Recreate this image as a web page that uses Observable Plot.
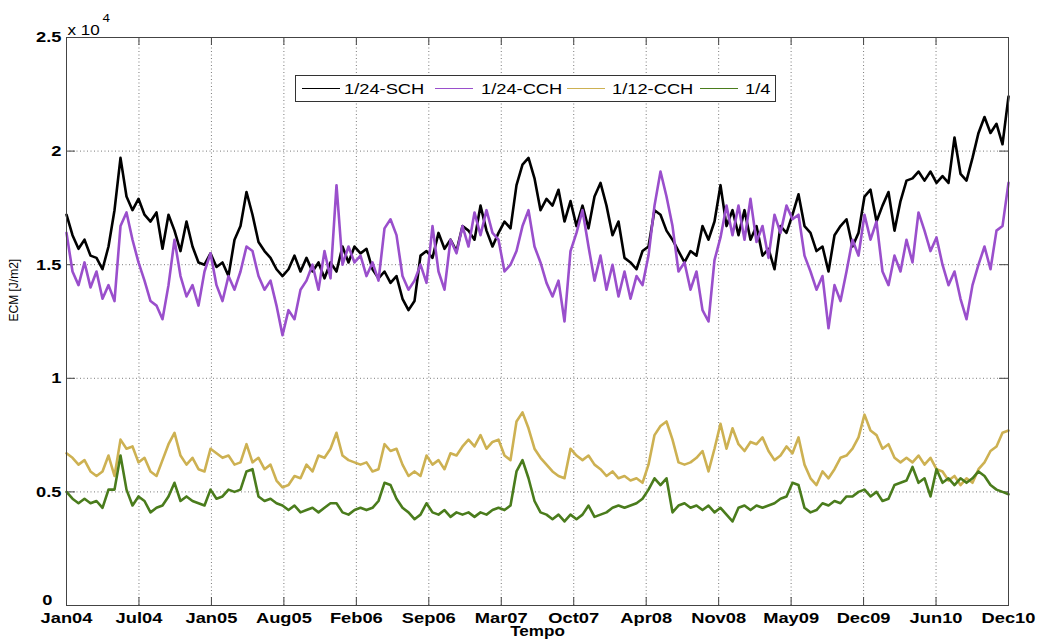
<!DOCTYPE html>
<html>
<head>
<meta charset="utf-8">
<script src="https://cdn.jsdelivr.net/npm/d3@7"></script>
<script src="https://cdn.jsdelivr.net/npm/@observablehq/plot@0.6"></script>
<style>
  html, body { margin: 0; padding: 0; background: #fff; }
  #chart { width: 1038px; height: 644px; }
</style>
</head>
<body>
<div id="chart"></div>
<script>
// Mean kinetic energy (ECM), in units of 10^4 J/m2, sampled on a regular
// time grid from Jan 2004 to Dec 2010.
const seriesNames = ["1/24-SCH", "1/24-CCH", "1/12-CCH", "1/4"];
const seriesColors = ["#000000", "#9a4fcc", "#cdb152", "#4a7c1c"];

const sch24 = [
  1.72, 1.63, 1.57, 1.61, 1.54, 1.53, 1.48, 1.58, 1.74, 1.97,
  1.80, 1.74, 1.79, 1.72, 1.69, 1.73, 1.57, 1.72, 1.65, 1.56,
  1.69, 1.58, 1.51, 1.50, 1.55, 1.49, 1.51, 1.45, 1.61, 1.67,
  1.82, 1.72, 1.60, 1.56, 1.53, 1.48, 1.45, 1.48, 1.54, 1.47,
  1.53, 1.47, 1.51, 1.44, 1.51, 1.47, 1.58, 1.51, 1.58, 1.55,
  1.57, 1.48, 1.44, 1.47, 1.42, 1.45, 1.35, 1.30, 1.34, 1.54,
  1.56, 1.53, 1.64, 1.57, 1.61, 1.56, 1.67, 1.65, 1.61, 1.76,
  1.65, 1.58, 1.64, 1.69, 1.66, 1.85, 1.94, 1.97, 1.88, 1.74,
  1.79, 1.76, 1.83, 1.69, 1.78, 1.67, 1.76, 1.66, 1.80, 1.86,
  1.76, 1.63, 1.69, 1.53, 1.51, 1.48, 1.56, 1.58, 1.74, 1.72,
  1.65, 1.61, 1.56, 1.51, 1.56, 1.54, 1.67, 1.61, 1.69, 1.85,
  1.67, 1.74, 1.63, 1.74, 1.61, 1.67, 1.54, 1.57, 1.48, 1.67,
  1.64, 1.72, 1.81, 1.67, 1.64, 1.56, 1.58, 1.47, 1.63, 1.67,
  1.70, 1.58, 1.64, 1.80, 1.83, 1.69, 1.76, 1.82, 1.65, 1.78,
  1.87, 1.88, 1.91, 1.87, 1.91, 1.86, 1.89, 1.86, 2.06, 1.90,
  1.87, 1.97, 2.08, 2.15, 2.08, 2.12, 2.03, 2.24
];

const cch24 = [
  1.64, 1.47, 1.41, 1.51, 1.40, 1.47, 1.35, 1.41, 1.34, 1.67,
  1.73, 1.61, 1.51, 1.43, 1.34, 1.32, 1.26, 1.41, 1.61, 1.45,
  1.36, 1.41, 1.32, 1.47, 1.55, 1.41, 1.34, 1.45, 1.39, 1.47,
  1.58, 1.56, 1.45, 1.39, 1.43, 1.32, 1.19, 1.30, 1.26, 1.39,
  1.43, 1.50, 1.39, 1.56, 1.44, 1.85, 1.50, 1.58, 1.51, 1.54,
  1.45, 1.51, 1.43, 1.66, 1.70, 1.63, 1.45, 1.39, 1.43, 1.50,
  1.42, 1.67, 1.47, 1.39, 1.61, 1.55, 1.67, 1.58, 1.73, 1.63,
  1.74, 1.64, 1.61, 1.47, 1.50, 1.56, 1.67, 1.74, 1.58, 1.51,
  1.42, 1.36, 1.43, 1.25, 1.56, 1.64, 1.74, 1.58, 1.43, 1.54,
  1.39, 1.50, 1.36, 1.47, 1.35, 1.45, 1.41, 1.54, 1.76, 1.91,
  1.80, 1.67, 1.47, 1.51, 1.39, 1.47, 1.30, 1.25, 1.52, 1.62,
  1.76, 1.63, 1.76, 1.61, 1.79, 1.60, 1.67, 1.53, 1.72, 1.64,
  1.76, 1.70, 1.72, 1.54, 1.47, 1.39, 1.45, 1.22, 1.41, 1.34,
  1.47, 1.61, 1.54, 1.72, 1.61, 1.69, 1.47, 1.41, 1.54, 1.47,
  1.61, 1.51, 1.73, 1.65, 1.56, 1.62, 1.50, 1.41, 1.47, 1.35,
  1.26, 1.41, 1.50, 1.58, 1.48, 1.65, 1.67, 1.86
];

const cch12 = [
  0.67, 0.65, 0.62, 0.64, 0.59, 0.57, 0.59, 0.66, 0.57, 0.73,
  0.69, 0.70, 0.63, 0.65, 0.59, 0.57, 0.64, 0.71, 0.76, 0.66,
  0.62, 0.65, 0.60, 0.59, 0.69, 0.67, 0.65, 0.66, 0.62, 0.63,
  0.71, 0.63, 0.65, 0.60, 0.62, 0.55, 0.52, 0.53, 0.57, 0.56,
  0.62, 0.59, 0.66, 0.65, 0.69, 0.76, 0.66, 0.64, 0.63, 0.62,
  0.63, 0.59, 0.60, 0.71, 0.68, 0.69, 0.62, 0.57, 0.59, 0.57,
  0.66, 0.62, 0.64, 0.60, 0.67, 0.66, 0.70, 0.73, 0.70, 0.75,
  0.69, 0.72, 0.73, 0.66, 0.64, 0.81, 0.85, 0.78, 0.69, 0.65,
  0.62, 0.59, 0.57, 0.56, 0.69, 0.66, 0.64, 0.66, 0.62, 0.60,
  0.57, 0.59, 0.56, 0.57, 0.55, 0.56, 0.54, 0.62, 0.75, 0.79,
  0.81, 0.73, 0.63, 0.62, 0.63, 0.65, 0.68, 0.59, 0.69, 0.80,
  0.69, 0.78, 0.71, 0.68, 0.72, 0.71, 0.74, 0.68, 0.64, 0.66,
  0.70, 0.67, 0.74, 0.62, 0.56, 0.53, 0.59, 0.56, 0.60, 0.65,
  0.66, 0.69, 0.74, 0.84, 0.77, 0.75, 0.69, 0.71, 0.65, 0.63,
  0.65, 0.63, 0.66, 0.62, 0.65, 0.60, 0.59, 0.55, 0.57, 0.53,
  0.56, 0.54, 0.60, 0.63, 0.68, 0.70, 0.76, 0.77
];

const res4 = [
  0.50, 0.47, 0.45, 0.47, 0.45, 0.46, 0.43, 0.51, 0.51, 0.66,
  0.51, 0.44, 0.48, 0.46, 0.41, 0.43, 0.44, 0.48, 0.54, 0.46,
  0.48, 0.46, 0.45, 0.44, 0.51, 0.47, 0.48, 0.51, 0.50, 0.51,
  0.59, 0.60, 0.48, 0.46, 0.47, 0.45, 0.44, 0.42, 0.44, 0.41,
  0.42, 0.43, 0.41, 0.43, 0.45, 0.45, 0.41, 0.40, 0.42, 0.43,
  0.42, 0.43, 0.46, 0.54, 0.53, 0.47, 0.43, 0.41, 0.38, 0.40,
  0.45, 0.41, 0.40, 0.42, 0.39, 0.41, 0.40, 0.41, 0.39, 0.41,
  0.40, 0.42, 0.43, 0.42, 0.44, 0.59, 0.64, 0.56, 0.46, 0.41,
  0.40, 0.38, 0.40, 0.37, 0.40, 0.38, 0.40, 0.44, 0.39, 0.40,
  0.41, 0.43, 0.44, 0.43, 0.44, 0.45, 0.47, 0.51, 0.56, 0.53,
  0.56, 0.41, 0.44, 0.45, 0.43, 0.44, 0.42, 0.44, 0.41, 0.43,
  0.40, 0.37, 0.43, 0.44, 0.42, 0.44, 0.43, 0.44, 0.45, 0.47,
  0.48, 0.54, 0.53, 0.43, 0.41, 0.42, 0.45, 0.44, 0.46, 0.45,
  0.48, 0.48, 0.50, 0.51, 0.48, 0.50, 0.46, 0.47, 0.53, 0.54,
  0.55, 0.61, 0.54, 0.56, 0.48, 0.60, 0.54, 0.56, 0.53, 0.56,
  0.54, 0.56, 0.59, 0.57, 0.53, 0.51, 0.50, 0.49
];

const xTickLabels = ["Jan04", "Jul04", "Jan05", "Aug05", "Feb06", "Sep06", "Mar07",
                     "Oct07", "Apr08", "Nov08", "May09", "Dec09", "Jun10", "Dec10"];
const yTicks = [0, 0.5, 1, 1.5, 2, 2.5];
const yTickLabels = ["0", "0.5", "1", "1.5", "2", "2.5"];

// Time grid
const t0 = Date.UTC(2004, 0, 1);
const t1 = Date.UTC(2010, 11, 31);
const n = sch24.length;
const dates = d3.range(n).map(i => new Date(t0 + (i * (t1 - t0)) / (n - 1)));
// Date ticks are evenly spaced across the record
const xTicks = xTickLabels.map((_, i) => new Date(t0 + (i * (t1 - t0)) / (xTickLabels.length - 1)));
const xLabelOf = new Map(xTicks.map((d, i) => [+d, xTickLabels[i]]));
const yLabelOf = new Map(yTicks.map((d, i) => [d, yTickLabels[i]]));

const seriesValues = [sch24, cch24, cch12, res4];
const rows = seriesNames.flatMap((name, s) =>
  dates.map((date, i) => ({ date, value: seriesValues[s][i], name }))
);

const gridStyle = { stroke: "#222", strokeOpacity: 0.6, strokeDasharray: "1,2.5" };
const tickStyle = { stroke: "#444", strokeWidth: 1 };
const yLabelStyle = {
  tickFormat: d => yLabelOf.get(d), tickSize: 0, tickPadding: 5,
  fontSize: 15, fontWeight: "bold", label: null
};

const chart = Plot.plot({
  width: 1038,
  height: 644,
  marginLeft: 66,
  marginRight: 30,
  marginTop: 37,
  marginBottom: 39,
  style: {
    fontFamily: '"Liberation Sans", Arial, Helvetica, sans-serif',
    fontSize: "15px",
    background: "#fff",
    color: "#000",
    overflow: "visible"
  },
  x: { type: "utc", domain: [new Date(t0), new Date(t1)] },
  y: { domain: [0, 2.5] },
  color: { domain: seriesNames, range: seriesColors },
  marks: [
    Plot.gridX(xTicks, gridStyle),
    Plot.gridY(yTicks, gridStyle),
    // inward ticks on all four sides
    Plot.ruleX(xTicks, { ...tickStyle, insetTop: 560 }),
    Plot.ruleX(xTicks, { ...tickStyle, insetBottom: 560 }),
    Plot.ruleY(yTicks, { ...tickStyle, insetRight: 933 }),
    Plot.ruleY(yTicks, { ...tickStyle, insetLeft: 933 }),
    Plot.lineY(rows, {
      x: "date", y: "value", z: "name", stroke: "name",
      strokeWidth: 2.6, strokeLinejoin: "round", strokeLinecap: "round"
    }),
    Plot.frame({ stroke: "#444", strokeWidth: 1 }),
    Plot.axisX(xTicks, {
      tickFormat: d => xLabelOf.get(+d), tickSize: 0, tickPadding: 7,
      fontSize: 15, fontWeight: "bold", label: null
    }),
    Plot.axisY(yTicks.filter(d => d > 0), yLabelStyle),
    // the zero label sits a little to the left, clear of the first date
    Plot.axisY(yTicks.filter(d => d === 0), { ...yLabelStyle, dx: -9, dy: -5 }),
    Plot.text(["Tempo"], {
      frameAnchor: "bottom", dy: 21, lineAnchor: "top", fontSize: 14, fontWeight: "bold"
    }),
    Plot.text(["ECM [J/m2]"], {
      frameAnchor: "left", dx: -52, rotate: -90, fontSize: 12
    }),
    Plot.text(["x 10"], {
      frameAnchor: "top-left", dx: 1, dy: -3, textAnchor: "start", lineAnchor: "bottom", fontSize: 14
    }),
    Plot.text(["4"], {
      frameAnchor: "top-left", dx: 36, dy: -16, textAnchor: "start", lineAnchor: "bottom", fontSize: 11
    })
  ]
});

// Legend box across the top of the axes
const svg = d3.select(chart);
const legend = svg.append("g").attr("class", "legend").attr("text-anchor", "start");
legend.append("rect")
  .attr("x", 295.5).attr("y", 75.5).attr("width", 480).attr("height", 26)
  .attr("fill", "#fff").attr("stroke", "#333").attr("stroke-width", 1);
const legendItems = [
  { lineX: 302, textX: 344 },
  { lineX: 435, textX: 481 },
  { lineX: 567, textX: 612 },
  { lineX: 700, textX: 745 }
];
legendItems.forEach((it, i) => {
  legend.append("line")
    .attr("x1", it.lineX).attr("x2", it.lineX + 38)
    .attr("y1", 88.5).attr("y2", 88.5)
    .attr("stroke", seriesColors[i]).attr("stroke-width", 1.2);
  legend.append("text")
    .attr("x", it.textX).attr("y", 94)
    .attr("font-size", 15)
    .attr("text-anchor", "start")
    .attr("fill", "#000")
    .text(seriesNames[i]);
});

// Widen the lettering horizontally (tick labels, titles, legend)
chart.querySelectorAll("text").forEach(t => {
  if (t.textContent.startsWith("ECM")) return;
  const x = parseFloat(t.getAttribute("x")) || 0;
  const tr = t.getAttribute("transform") || "";
  t.setAttribute("transform", `${tr} translate(${x},0) scale(1.22,1) translate(${-x},0)`);
});

document.getElementById("chart").appendChild(chart);
</script>
</body>
</html>
